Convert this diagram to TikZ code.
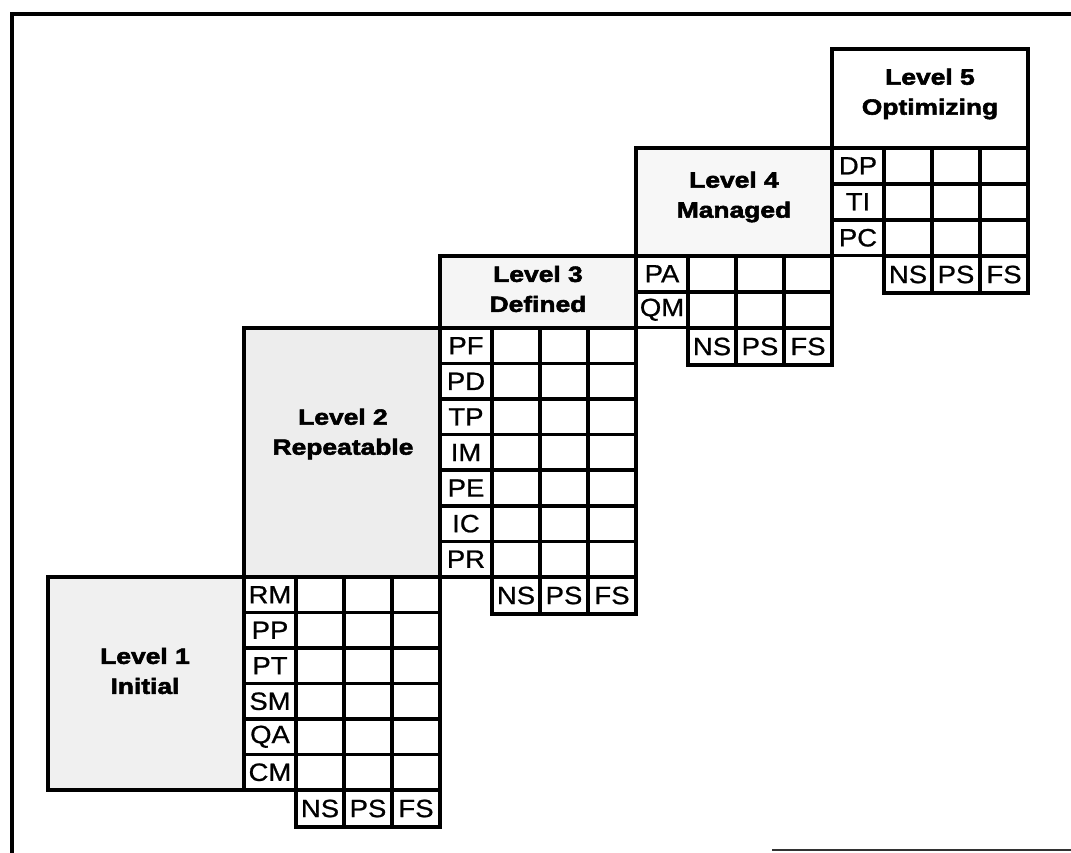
\documentclass[tikz,border=0pt]{standalone}
\usepackage{fontspec}
\setmainfont{Liberation Sans}
\newfontfamily\kpafont[FakeStretch=1.1, FakeBold=0.8]{Liberation Sans}
\newfontfamily\levelfont[FakeStretch=1.2, FakeBold=2.5]{Liberation Sans}
\usepackage{tikz}

\tikzset{
  frame/.style={line width=3.5pt},
  levelbox/.style={draw, line width=4pt, anchor=north west, inner sep=0pt, outer sep=0pt, minimum width=196pt},
  leveltext/.style={align=center, font=\levelfont\bfseries\fontsize{22}{30}\selectfont},
  cell/.style={draw, line width=3.5pt, anchor=north west, inner sep=0pt, outer sep=0pt,
    minimum width=48pt, minimum height=35.5pt, font=\kpafont\fontsize{25}{26}\selectfont},
  kpa/.style={cell, minimum width=52pt},
  ratingcell/.style={cell, minimum height=37pt}
}

\begin{document}
\begin{tikzpicture}[x=1pt, y=-1pt]
\useasboundingbox (0,0) rectangle (1071,853);
\draw[frame] (1071,14) -- (12,14) -- (12,853);
\draw[line width=2.5pt, black!80] (772,850) -- (1071,850);

\node[levelbox, minimum height=213pt, fill=black!6] (lvl1) at (48,577) {};
\node[levelbox, minimum height=249pt, fill=black!7] (lvl2) at (244,328) {};
\node[levelbox, minimum height=72pt, fill=black!4] (lvl3) at (440,256) {};
\node[levelbox, minimum height=108pt, fill=black!3] (lvl4) at (636,148) {};
\node[levelbox, minimum height=99pt] (lvl5) at (832,49) {};

\node[leveltext] (lvl1-txt) at (145,671) {Level 1\\Initial};
\node[leveltext] (lvl2-txt) at (343,434) {Level 2\\Repeatable};
\node[leveltext] (lvl3-txt) at (538,289) {Level 3\\Defined};
\node[leveltext] (lvl4-txt) at (734,197) {Level 4\\Managed};
\node[leveltext] (lvl5-txt) at (930,94) {Level 5\\Optimizing};

\foreach \nm/\lab [count=\r from 0] in {rm/RM,pp/PP,pt/PT,sm/SM,qa/QA,cm/CM} {
  \node[kpa] (\nm) at (244,{577+\r*35.5}) {\lab};
  \foreach \c in {1,2,3}
    \node[cell] (\nm-\c) at ({248+\c*48},{577+\r*35.5}) {};
}
\foreach \nm/\lab [count=\c] in {ns/NS,ps/PS,fs/FS}
  \node[ratingcell] (\nm-a) at ({248+\c*48},790) {\lab};

\foreach \nm/\lab [count=\r from 0] in {pf/PF,pd/PD,tp/TP,im/IM,pe/PE,ic/IC,pr/PR} {
  \node[kpa] (\nm) at (440,{328+\r*35.57}) {\lab};
  \foreach \c in {1,2,3}
    \node[cell] (\nm-\c) at ({444+\c*48},{328+\r*35.57}) {};
}
\foreach \nm/\lab [count=\c] in {ns/NS,ps/PS,fs/FS}
  \node[ratingcell] (\nm-b) at ({444+\c*48},577) {\lab};

\foreach \nm/\lab [count=\r from 0] in {pa/PA,qm/QM} {
  \node[kpa] (\nm) at (636,{256+\r*36}) {\lab};
  \foreach \c in {1,2,3}
    \node[cell] (\nm-\c) at ({640+\c*48},{256+\r*36}) {};
}
\foreach \nm/\lab [count=\c] in {ns/NS,ps/PS,fs/FS}
  \node[ratingcell] (\nm-c) at ({640+\c*48},328) {\lab};

\foreach \nm/\lab [count=\r from 0] in {dp/DP,ti/TI,pc/PC} {
  \node[kpa] (\nm) at (832,{148+\r*36}) {\lab};
  \foreach \c in {1,2,3}
    \node[cell] (\nm-\c) at ({836+\c*48},{148+\r*36}) {};
}
\foreach \nm/\lab [count=\c] in {ns/NS,ps/PS,fs/FS}
  \node[ratingcell] (\nm-d) at ({836+\c*48},256) {\lab};
\end{tikzpicture}
\end{document}
